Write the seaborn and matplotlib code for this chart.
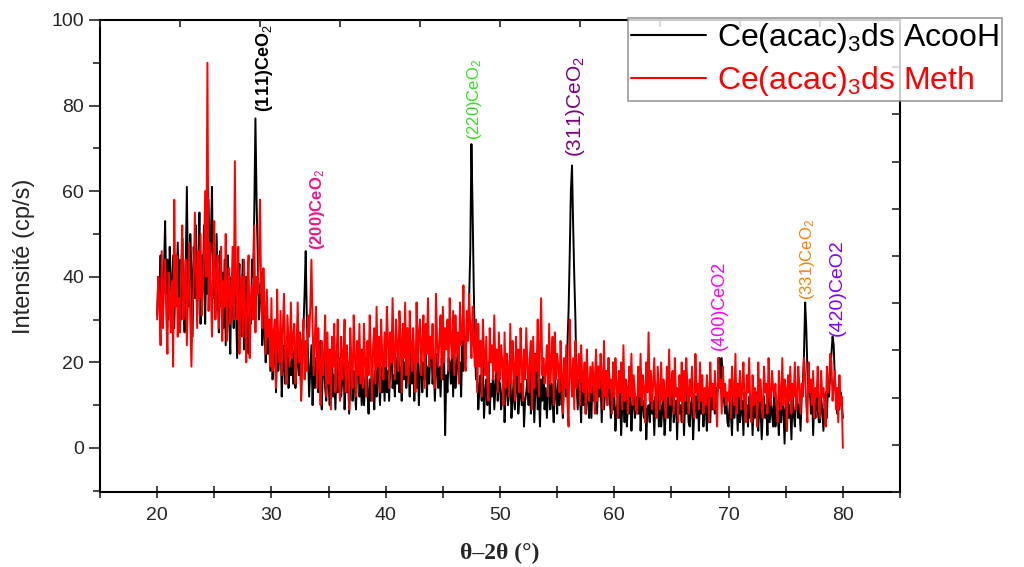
import numpy as np
import pandas as pd
import matplotlib
matplotlib.use("Agg")
import matplotlib.pyplot as plt
from matplotlib.ticker import MultipleLocator
from matplotlib.lines import Line2D
import seaborn as sns

# 2-theta grid, 20 -> 80 deg, 0.1 deg step (one row below = 2 deg)
two_theta_start, two_theta_step = 20.0, 0.1

acooh = [
    31, 40, 35, 45, 29, 38, 42, 53, 36, 44, 30, 47, 39, 33, 45, 28, 41, 37, 48, 34,
    44, 30, 49, 36, 27, 42, 61, 38, 33, 50, 41, 26, 47, 35, 52, 31, 40, 55, 29, 45,
    38, 52, 29, 44, 36, 58, 40, 49, 61, 35, 42, 32, 50, 37, 27, 46, 33, 41, 28, 44,
    24, 39, 45, 30, 22, 40, 35, 28, 47, 33, 21, 38, 43, 26, 36, 44, 23, 34, 40, 27,
    22, 35, 29, 44, 40, 55, 77, 58, 45, 30, 36, 41, 24, 33, 27, 20, 30, 22, 26, 18,
    25, 16, 21, 28, 13, 24, 18, 22, 27, 12, 19, 24, 15, 21, 26, 14, 20, 17, 23, 15,
    23, 14, 19, 26, 17, 22, 12, 25, 28, 36, 46, 30, 22, 12, 18, 24, 10, 19, 14, 21,
    20, 13, 17, 25, 9, 18, 22, 14, 11, 21, 15, 10, 19, 23, 12, 17, 9, 20, 13, 16,
    21, 12, 16, 23, 9, 17, 13, 20, 8, 15, 22, 11, 18, 14, 9, 19, 24, 12, 16, 10,
    18, 10, 15, 21, 13, 8, 16, 11, 20, 14, 9, 18, 12, 22, 17, 10, 19, 13, 21, 11,
    22, 13, 18, 11, 20, 24, 14, 17, 12, 21, 15, 25, 13, 19, 11, 23, 16, 20, 14, 18,
    19, 12, 23, 15, 25, 11, 18, 14, 21, 10, 17, 23, 13, 20, 16, 24, 12, 19, 15, 22,
    24, 15, 20, 11, 18, 22, 14, 19, 12, 21, 16, 24, 3, 17, 13, 21, 20, 15, 23, 12,
    24, 14, 19, 22, 16, 20, 12, 25, 18, 26, 22, 30, 26, 35, 46, 71, 56, 38, 24, 16,
    19, 9, 14, 17, 11, 21, 7, 13, 16, 10, 20, 8, 15, 12, 18, 9, 14, 19, 11, 16,
    15, 9, 12, 19, 6, 14, 17, 10, 13, 18, 7, 11, 16, 9, 14, 20, 8, 12, 15, 10,
    17, 5, 11, 13, 16, 10, 19, 8, 12, 15, 6, 14, 18, 9, 13, 5, 16, 11, 20, 9,
    14, 7, 12, 20, 9, 15, 11, 6, 17, 13, 8, 16, 10, 19, 12, 7, 15, 20, 12, 24,
    32, 45, 60, 66, 52, 40, 30, 15, 9, 16, 12, 6, 18, 10, 14, 8, 17, 11, 7, 15,
    7, 17, 11, 14, 22, 8, 19, 12, 16, 6, 15, 9, 13, 18, 10, 21, 12, 7, 15, 9,
    13, 4, 9, 11, 7, 14, 3, 10, 12, 6, 15, 5, 11, 8, 13, 4, 10, 14, 7, 9,
    12, 8, 16, 4, 10, 11, 7, 13, 2, 9, 10, 6, 14, 8, 11, 3, 12, 9, 15, 5,
    14, 5, 9, 12, 3, 8, 12, 7, 15, 4, 10, 13, 6, 9, 11, 2, 13, 8, 10, 6,
    13, 3, 11, 8, 14, 6, 5, 10, 12, 2, 9, 12, 7, 14, 4, 11, 8, 13, 5, 10,
    10, 4, 13, 7, 6, 15, 9, 11, 8, 14, 12, 17, 21, 14, 21, 16, 11, 8, 12, 6,
    5, 11, 8, 3, 13, 7, 10, 12, 4, 14, 6, 9, 11, 3, 13, 8, 10, 5, 12, 7,
    12, 3, 10, 7, 13, 6, 4, 11, 9, 2, 9, 12, 7, 10, 3, 13, 6, 11, 8, 5,
    14, 5, 10, 8, 3, 12, 6, 11, 9, 1, 11, 4, 13, 7, 10, 2, 12, 8, 5, 11,
    13, 7, 10, 4, 12, 15, 22, 34, 28, 18, 12, 15, 8, 14, 3, 11, 7, 13, 9, 6,
    6, 12, 9, 4, 10, 13, 7, 15, 12, 18, 22, 26, 24, 16, 12, 8, 14, 9, 13, 11,
    7,
]

meth = [
    30, 40, 34, 24, 46, 28, 38, 44, 31, 22, 41, 35, 27, 39, 19, 58, 33, 45, 26, 35,
    27, 42, 52, 30, 38, 44, 24, 36, 48, 30, 19, 33, 38, 55, 42, 28, 46, 35, 50, 31,
    36, 45, 60, 40, 90, 32, 48, 37, 26, 44, 53, 30, 41, 45, 28, 36, 47, 25, 39, 33,
    50, 25, 37, 42, 29, 34, 47, 30, 67, 38, 30, 47, 22, 35, 40, 26, 44, 31, 20, 38,
    45, 21, 34, 38, 30, 52, 27, 40, 36, 44, 58, 36, 28, 42, 33, 22, 37, 26, 30, 19,
    35, 18, 27, 30, 14, 37, 24, 20, 32, 17, 28, 36, 22, 15, 31, 25, 19, 34, 21, 26,
    29, 15, 24, 34, 20, 27, 11, 22, 30, 16, 25, 18, 31, 26, 33, 44, 29, 17, 26, 33,
    14, 28, 20, 10, 25, 17, 22, 31, 12, 27, 15, 23, 9, 26, 19, 29, 13, 21, 30, 16,
    11, 26, 16, 22, 30, 13, 24, 18, 9, 28, 20, 14, 31, 22, 12, 25, 17, 29, 15, 23,
    14, 29, 20, 12, 25, 17, 31, 22, 11, 24, 28, 15, 33, 19, 26, 13, 30, 21, 16, 27,
    19, 33, 25, 14, 27, 20, 35, 22, 16, 30, 24, 18, 32, 26, 13, 29, 21, 34, 17, 28,
    15, 32, 24, 18, 28, 21, 13, 34, 20, 27, 30, 17, 25, 31, 14, 29, 22, 35, 19, 26,
    21, 29, 17, 14, 36, 24, 19, 26, 31, 16, 33, 20, 28, 23, 30, 18, 35, 25, 21, 32,
    17, 31, 22, 27, 15, 34, 24, 26, 38, 20, 18, 32, 25, 36, 28, 21, 33, 24, 19, 30,
    13, 29, 19, 25, 12, 30, 22, 17, 26, 14, 11, 28, 20, 24, 16, 31, 18, 23, 13, 27,
    16, 24, 20, 10, 27, 14, 22, 18, 12, 29, 15, 25, 19, 11, 26, 17, 23, 13, 28, 20,
    11, 23, 16, 28, 19, 13, 21, 25, 9, 26, 14, 22, 18, 30, 12, 24, 35, 17, 21, 15,
    18, 24, 12, 29, 15, 20, 26, 10, 27, 16, 22, 19, 13, 25, 17, 8, 21, 14, 24, 11,
    5, 30, 18, 12, 21, 9, 25, 14, 18, 22, 10, 24, 16, 13, 20, 8, 23, 15, 11, 19,
    13, 20, 15, 8, 23, 11, 19, 14, 22, 17, 9, 25, 12, 18, 10, 21, 14, 16, 8, 20,
    12, 21, 15, 7, 18, 13, 20, 9, 24, 11, 16, 14, 8, 19, 12, 22, 10, 17, 13, 9,
    8, 19, 12, 22, 10, 17, 14, 6, 20, 13, 27, 11, 18, 9, 15, 21, 12, 7, 19, 14,
    9, 20, 11, 16, 13, 7, 19, 12, 23, 10, 15, 18, 8, 21, 12, 14, 6, 17, 11, 20,
    6, 18, 11, 21, 14, 8, 16, 12, 19, 10, 7, 22, 13, 15, 9, 20, 11, 17, 8, 14,
    10, 17, 13, 6, 20, 12, 15, 9, 18, 11, 5, 21, 14, 16, 8, 19, 12, 15, 10, 13,
    11, 16, 7, 19, 13, 10, 22, 8, 15, 12, 18, 9, 14, 20, 11, 6, 17, 13, 21, 10,
    6, 17, 10, 14, 12, 5, 20, 11, 16, 9, 7, 19, 13, 15, 8, 21, 12, 10, 18, 14,
    12, 15, 9, 6, 18, 13, 9, 21, 10, 16, 14, 4, 17, 11, 19, 8, 15, 12, 20, 9,
    11, 19, 14, 8, 15, 12, 21, 17, 10, 6, 20, 13, 16, 10, 18, 7, 14, 12, 19, 9,
    7, 18, 12, 14, 9, 5, 19, 13, 16, 22, 20, 11, 15, 18, 9, 14, 6, 17, 10, 12,
    0,
]

series_labels = [r"Ce(acac)$_3$ds AcooH", r"Ce(acac)$_3$ds Meth"]
series_colors = ["black", "red"]

peak_labels = [r"(111)CeO$_2$", r"(200)CeO$_2$", r"(220)CeO$_2$", r"(311)CeO$_2$",
               "(400)CeO2", r"(331)CeO$_2$", "(420)CeO2"]
peak_x = [29.4, 34.0, 47.8, 56.6, 69.2, 76.9, 79.5]
peak_y = [78.5, 46.3, 72.0, 68.0, 22.9, 34.6, 26.2]
peak_colors = ["black", "#F0148C", "#33DD22", "#800080", "#FF00FF", "#FF8000", "#8000FF"]
peak_sizes = [13, 12, 12, 15, 13, 12, 14]
peak_weights = ["bold", "bold", "normal", "normal", "normal", "normal", "normal"]

x_ticks = [20, 30, 40, 50, 60, 70, 80]
y_ticks = [0, 20, 40, 60, 80, 100]

# ---------------------------------------------------------------
sns.set_style("ticks")
plt.rcParams["font.family"] = ["Liberation Sans", "DejaVu Sans"]
plt.rcParams["mathtext.fontset"] = "custom"
plt.rcParams["mathtext.rm"] = "Liberation Sans"
plt.rcParams["mathtext.it"] = "Liberation Sans"

n = len(acooh)
two_theta = np.round(two_theta_start + two_theta_step * np.arange(n), 2)
df = pd.concat([
    pd.DataFrame({"x": two_theta, "y": acooh, "s": series_labels[0]}),
    pd.DataFrame({"x": two_theta[:len(meth)], "y": meth, "s": series_labels[1]}),
])

fig = plt.figure(figsize=(10.24, 5.67), dpi=100)
ax = fig.add_axes([100 / 1024, 1 - 492 / 567, 800 / 1024, 472 / 567])

sns.lineplot(data=df, x="x", y="y", hue="s", palette=series_colors,
             hue_order=series_labels, ax=ax, estimator=None, sort=False,
             linewidth=1.4, legend=False)

ax.set_xlim(15, 85)
ax.set_ylim(-10.3, 100)
ax.set_xticks(x_ticks)
ax.xaxis.set_minor_locator(MultipleLocator(5))
ax.set_yticks(y_ticks)
ax.yaxis.set_minor_locator(MultipleLocator(10))
ax.tick_params(axis="x", which="both", direction="inout", length=9, width=1.2,
               labelsize=14, top=False, pad=6)
ax.tick_params(axis="y", which="major", direction="out", length=8, width=1.2,
               labelsize=14, right=False)
ax.tick_params(axis="y", which="minor", direction="out", length=5, width=1.2, right=False)
for sp in ax.spines.values():
    sp.set_linewidth(1.5)
    sp.set_color("black")
ax.set_xlabel("θ–2θ (°)", family=["Liberation Serif", "DejaVu Serif"],
              fontweight="bold", fontsize=17, labelpad=14)
ax.set_ylabel("Intensité (cp/s)", fontsize=17, labelpad=12)

# secondary (unlabelled) top and right tick rows
axt = ax.twiny()
axt.set_xlim(0, 10)
axt.set_xticks(range(11))
axt.tick_params(axis="x", direction="in", length=5, width=1.2, labeltop=False)
axr = ax.twinx()
axr.set_ylim(0, 10)
axr.set_yticks(range(11))
axr.tick_params(axis="y", direction="in", length=6, width=1.2, labelright=False)
for a in (axt, axr):
    for sp in a.spines.values():
        sp.set_visible(False)

for lab, px, py, c, fs, fw in zip(peak_labels, peak_x, peak_y, peak_colors,
                                  peak_sizes, peak_weights):
    ax.text(px, py, lab, rotation=90, ha="center", va="bottom", color=c,
            fontsize=fs, fontweight=fw, zorder=5)

handles = [Line2D([], [], color=c, lw=1.5) for c in series_colors]
leg = fig.legend(handles, series_labels, loc="upper left",
                 bbox_to_anchor=(628 / 1024, 1 - 18 / 567), fontsize=23,
                 frameon=True, fancybox=False, handlelength=2.35,
                 handletextpad=0.35, borderpad=0.1, labelspacing=0.28,
                 borderaxespad=0)
leg.get_frame().set_edgecolor("#808080")
leg.get_frame().set_linewidth(1.2)
for t, c in zip(leg.get_texts(), series_colors):
    t.set_color(c)

fig.savefig("out.png", dpi=100)
